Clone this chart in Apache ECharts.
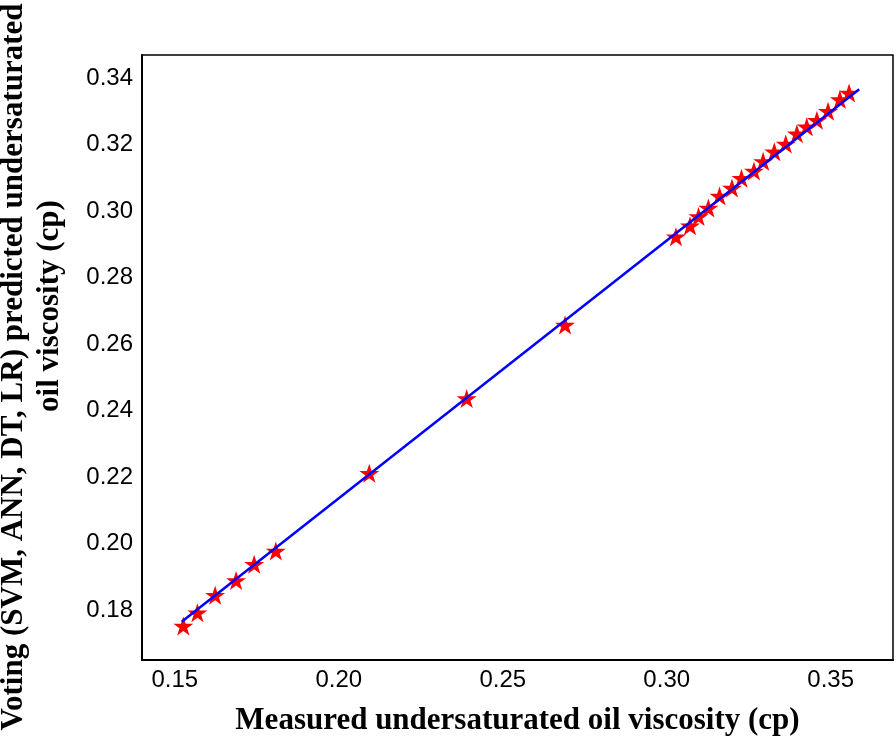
<!DOCTYPE html>
<html>
<head>
<meta charset="utf-8">
<script src="https://cdn.jsdelivr.net/npm/echarts@6/dist/echarts.min.js"></script>
<style>
html,body{margin:0;padding:0;background:#fff;}
#chart{width:896px;height:739px;}
</style>
</head>
<body>
<div id="chart"></div>
<script>
// Measured undersaturated oil viscosity (cp)
const measured = [0.1526, 0.1569, 0.1623, 0.1687, 0.1742, 0.1808,
  0.2093, 0.2390, 0.2690,
  0.3028, 0.3071, 0.3097, 0.3127, 0.3161, 0.3199, 0.3228, 0.3266, 0.3294,
  0.3328, 0.3363, 0.3397, 0.3427, 0.3458, 0.3492, 0.3528, 0.3556];
// Voting predicted undersaturated oil viscosity (cp)
const predicted = [0.1752, 0.1792, 0.1845, 0.1889, 0.1938, 0.1978,
  0.2212, 0.2437, 0.2658,
  0.2923, 0.2956, 0.2984, 0.3010, 0.3046, 0.3070, 0.3099, 0.3121, 0.3150,
  0.3179, 0.3202, 0.3233, 0.3254, 0.3274, 0.3301, 0.3336, 0.3356];
// Fitted line end points
const fitX = [0.1521, 0.3587];
const fitY = [0.1765, 0.3367];
// Tick labels
const xTicks = [0.15, 0.20, 0.25, 0.30, 0.35];
const yTicks = [0.18, 0.20, 0.22, 0.24, 0.26, 0.28, 0.30, 0.32, 0.34];

const xTitle = 'Measured undersaturated oil viscosity (cp)';
const yTitle1 = 'Voting (SVM, ANN, DT, LR) predicted undersaturated';
const yTitle2 = 'oil viscosity (cp)';

// star path
function starPath() {
  const pts = [];
  for (let k = 0; k < 10; k++) {
    const r = (k % 2 === 0) ? 50 : 19.1;
    const a = k * Math.PI / 5;
    pts.push([(r * Math.sin(a)).toFixed(2), (-r * Math.cos(a)).toFixed(2)]);
  }
  return 'path://M' + pts.map(p => p[0] + ',' + p[1]).join('L') + 'Z';
}

function inList(v, list) {
  return list.some(t => Math.abs(t - v) < 1e-7);
}

const chart = echarts.init(document.getElementById('chart'));
const labelFont = {fontFamily: 'Liberation Sans, Arial, sans-serif', fontSize: 24, color: '#000'};
const titleFont = {fontFamily: 'Liberation Serif, Times New Roman, serif', fontSize: 31, fontWeight: 'bold', fill: '#000'};

chart.setOption({
  animation: false,
  backgroundColor: '#fff',
  grid: {left: 142, right: 3, top: 55, bottom: 79, show: true, borderColor: '#000', borderWidth: 1.5,
    containLabel: false, outerBoundsMode: 'none'},
  xAxis: {
    type: 'value', min: 0.14, max: 0.369, interval: 0.01,
    axisLine: {show: true, lineStyle: {color: '#000', width: 2}},
    axisTick: {show: false},
    splitLine: {show: false},
    axisLabel: Object.assign({margin: 8, showMaxLabel: false, showMinLabel: false,
      formatter: v => inList(v, xTicks) ? v.toFixed(2) : ''}, labelFont),
    name: xTitle, nameLocation: 'middle', nameGap: 45,
    nameTextStyle: {fontFamily: 'Liberation Serif, Times New Roman, serif', fontSize: 31, fontWeight: 'bold', color: '#000'}
  },
  yAxis: {
    type: 'value', min: 0.165, max: 0.347, interval: 0.005,
    axisLine: {show: true, lineStyle: {color: '#000', width: 2}},
    axisTick: {show: false},
    splitLine: {show: false},
    axisLabel: Object.assign({margin: 9, showMaxLabel: false, showMinLabel: false,
      formatter: v => inList(v, yTicks) ? v.toFixed(2) : ''}, labelFont)
  },
  graphic: [
    {type: 'text', x: 14, y: 367, rotation: Math.PI / 2,
      style: Object.assign({text: yTitle1, textAlign: 'center', textVerticalAlign: 'middle'}, titleFont)},
    {type: 'text', x: 50, y: 306, rotation: Math.PI / 2,
      style: Object.assign({text: yTitle2, textAlign: 'center', textVerticalAlign: 'middle'}, titleFont)}
  ],
  series: [
    {
      type: 'line',
      data: fitX.map((x, i) => [x, fitY[i]]),
      showSymbol: false, symbol: 'none',
      lineStyle: {color: '#0000ff', width: 2.5},
      z: 3
    },
    {
      type: 'scatter',
      data: measured.map((x, i) => [x, predicted[i]]),
      symbol: starPath(),
      symbolSize: [20, 19],
      itemStyle: {color: '#ff0000', opacity: 1},
      z: 2
    }
  ]
});
</script>
</body>
</html>
